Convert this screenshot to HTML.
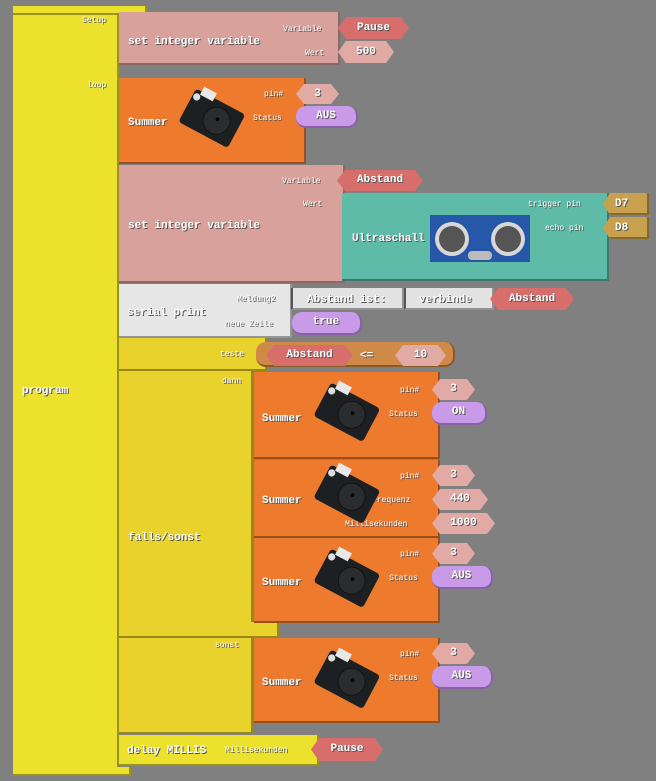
<!DOCTYPE html>
<html><head><meta charset="utf-8">
<style>
body{margin:0;width:656px;height:781px;background:#808080;position:relative;overflow:hidden;font-family:"Liberation Mono",monospace;}
.b{position:absolute;box-sizing:border-box;border-right:2px solid rgba(0,0,0,.35);border-bottom:2px solid rgba(0,0,0,.35);}
.t{position:absolute;color:#fff;font-weight:bold;font-size:11px;text-shadow:1px 1px 0 #555;white-space:nowrap;line-height:12px;}
.l{position:absolute;color:#fff;font-size:8px;text-shadow:1px 1px 0 #555;white-space:nowrap;line-height:9px;}
.p{position:absolute;color:#fff;font-weight:bold;font-size:11px;text-shadow:1px 1px 0 #555;text-align:center;box-sizing:border-box;clip-path:polygon(8px 0,calc(100% - 8px) 0,100% 50%,calc(100% - 8px) 100%,8px 100%,0 50%);}
.r{position:absolute;color:#fff;font-weight:bold;font-size:11px;text-shadow:1px 1px 0 #555;text-align:center;border-radius:10px;box-sizing:border-box;border-bottom:2px solid #8a60a8;border-right:2px solid #8a60a8;background:#c99ae8;}
.Y{background:#ece22e}
.Y2{background:#ead22c}
.pk{background:#d9a19b}
.or{background:#ee7a2e}
</style></head><body>

<div class="b Y" style="left:13px;top:6px;width:106px;height:770px;"></div>
<div class="b Y" style="left:13px;top:6px;width:134px;height:9px;"></div>
<div class="t" style="left:22px;top:385px;">program</div>
<div class="l" style="left:82px;top:16px;">Setup</div>
<div class="l" style="left:87px;top:81px;">loop</div>

<div class="b pk" style="left:119px;top:12px;width:221px;height:53px;"></div>
<div class="t" style="left:128px;top:36px;">set integer variable</div>
<div class="l" style="left:283px;top:25px;">Variable</div>
<div class="l" style="left:305px;top:49px;">Wert</div>
<div class="p" style="left:338px;top:17px;width:71px;height:22px;line-height:22px;background:#d86e6c;">Pause</div>
<div class="p" style="left:338px;top:41px;width:56px;height:22px;line-height:22px;background:#e2aaa4;">500</div>

<svg width="0" height="0" style="position:absolute"><defs>
<g id="bz">
<g transform="translate(4 4) scale(0.9) rotate(28 35 30)">
<rect x="5" y="10" width="62" height="42" rx="4" fill="#1c2022"/>
<rect x="12" y="4" width="16" height="10" fill="#e8e8e8"/>
<circle cx="10" cy="18" r="4" fill="#ddd"/>
<circle cx="42" cy="31" r="15" fill="#2a2c2e" stroke="#111"/>
<circle cx="42" cy="29" r="2" fill="#000"/>
</g></g>
<g id="us">
<rect x="0" y="0" width="100" height="47" fill="#2657a8"/>
<circle cx="22" cy="24" r="17" fill="#d8d8d8"/><circle cx="22" cy="24" r="13" fill="#555"/>
<circle cx="78" cy="24" r="17" fill="#d8d8d8"/><circle cx="78" cy="24" r="13" fill="#555"/>
<rect x="38" y="36" width="24" height="9" rx="4" fill="#bbb"/>
</g>
</defs></svg>

<div class="b or" style="left:119px;top:78px;width:187px;height:86px;"></div>
<div class="t" style="left:128px;top:117px;">Summer</div>
<svg style="position:absolute;left:176px;top:86px" width="80" height="70"><use href="#bz"/></svg>
<div class="l" style="left:264px;top:90px;">pin#</div>
<div class="l" style="left:253px;top:114px;">Status</div>
<div class="p" style="left:296px;top:84px;width:43px;height:20px;line-height:20px;background:#e2aaa4;">3</div>
<div class="r" style="left:296px;top:106px;width:62px;height:22px;line-height:20px;">AUS</div>

<div class="b pk" style="left:119px;top:165px;width:226px;height:118px;"></div>
<div class="t" style="left:128px;top:220px;">set integer variable</div>
<div class="l" style="left:282px;top:177px;">Variable</div>
<div class="l" style="left:303px;top:200px;">Wert</div>
<div class="p" style="left:337px;top:170px;width:86px;height:21px;line-height:21px;background:#d86e6c;">Abstand</div>
<div class="b" style="left:342px;top:193px;width:267px;height:88px;background:#5ebba8;"></div>
<div class="t" style="left:352px;top:233px;">Ultraschall</div>
<svg style="position:absolute;left:430px;top:215px" width="100" height="47"><use href="#us"/></svg>
<div class="l" style="left:528px;top:200px;">trigger pin</div>
<div class="l" style="left:545px;top:224px;">echo pin</div>
<div class="b" style="left:603px;top:193px;width:46px;height:22px;background:#c9a14e;clip-path:polygon(7px 0,100% 0,100% 100%,7px 100%,0 50%);"></div>
<div class="t" style="left:615px;top:198px;">D7</div>
<div class="b" style="left:603px;top:217px;width:46px;height:22px;background:#c9a14e;clip-path:polygon(7px 0,100% 0,100% 100%,7px 100%,0 50%);"></div>
<div class="t" style="left:615px;top:222px;">D8</div>

<div class="b" style="left:119px;top:284px;width:173px;height:54px;background:#e6e6e6;"></div>
<div class="t" style="left:127px;top:307px;">serial print</div>
<div class="l" style="left:237px;top:295px;">Meldung2</div>
<div class="l" style="left:225px;top:320px;">neue Zeile</div>
<div class="b" style="left:291px;top:288px;width:113px;height:22px;background:#e2e2e2;border-left:2px solid #555;"></div>
<div class="t" style="left:307px;top:294px;">Abstand ist:</div>
<div class="b" style="left:404px;top:288px;width:90px;height:22px;background:#e2e2e2;border-left:2px solid #555;"></div>
<div class="t" style="left:419px;top:294px;">verbinde</div>
<div class="p" style="left:490px;top:288px;width:84px;height:22px;line-height:22px;background:#d86e6c;">Abstand</div>
<div class="r" style="left:292px;top:312px;width:70px;height:23px;line-height:21px;">true</div>

<div class="b Y2" style="left:119px;top:338px;width:134px;height:396px;"></div>
<div class="b Y2" style="left:119px;top:338px;width:148px;height:33px;"></div>
<div class="b Y2" style="left:119px;top:622px;width:160px;height:16px;"></div>
<div class="t" style="left:128px;top:532px;">falls/sonst</div>
<div class="l" style="left:220px;top:350px;">teste</div>
<div class="l" style="left:222px;top:377px;">dann</div>
<div class="l" style="left:215px;top:641px;">sonst</div>
<div class="b" style="left:256px;top:342px;width:199px;height:25px;background:#d08a48;border-radius:10px;"></div>
<div class="p" style="left:266px;top:345px;width:87px;height:21px;line-height:21px;background:#d86e6c;">Abstand</div>
<div class="t" style="left:360px;top:350px;">&lt;=</div>
<div class="p" style="left:395px;top:345px;width:51px;height:21px;line-height:21px;background:#e2aaa4;">10</div>

<div class="b or" style="left:254px;top:372px;width:186px;height:87px;"></div>
<div class="t" style="left:262px;top:413px;">Summer</div>
<svg style="position:absolute;left:311px;top:380px" width="80" height="70"><use href="#bz"/></svg>
<div class="l" style="left:400px;top:386px;">pin#</div>
<div class="l" style="left:389px;top:410px;">Status</div>
<div class="p" style="left:432px;top:379px;width:43px;height:21px;line-height:21px;background:#e2aaa4;">3</div>
<div class="r" style="left:432px;top:402px;width:55px;height:23px;line-height:21px;">ON</div>

<div class="b or" style="left:254px;top:460px;width:186px;height:78px;"></div>
<div class="t" style="left:262px;top:495px;">Summer</div>
<div class="l" style="left:400px;top:472px;">pin#</div>
<div class="l" style="left:372px;top:496px;">Frequenz</div>
<div class="l" style="left:345px;top:520px;">Millisekunden</div>
<svg style="position:absolute;left:311px;top:462px" width="80" height="70"><use href="#bz"/></svg>
<div class="p" style="left:432px;top:465px;width:43px;height:21px;line-height:21px;background:#e2aaa4;">3</div>
<div class="p" style="left:432px;top:489px;width:56px;height:21px;line-height:21px;background:#e2aaa4;">440</div>
<div class="p" style="left:432px;top:513px;width:63px;height:21px;line-height:21px;background:#e2aaa4;">1000</div>

<div class="b or" style="left:254px;top:538px;width:186px;height:85px;"></div>
<div class="t" style="left:262px;top:577px;">Summer</div>
<svg style="position:absolute;left:311px;top:546px" width="80" height="70"><use href="#bz"/></svg>
<div class="l" style="left:400px;top:550px;">pin#</div>
<div class="l" style="left:389px;top:574px;">Status</div>
<div class="p" style="left:432px;top:543px;width:43px;height:21px;line-height:21px;background:#e2aaa4;">3</div>
<div class="r" style="left:432px;top:566px;width:61px;height:23px;line-height:21px;">AUS</div>

<div class="b or" style="left:254px;top:638px;width:186px;height:85px;"></div>
<div class="t" style="left:262px;top:677px;">Summer</div>
<svg style="position:absolute;left:311px;top:647px" width="80" height="70"><use href="#bz"/></svg>
<div class="l" style="left:400px;top:650px;">pin#</div>
<div class="l" style="left:389px;top:674px;">Status</div>
<div class="p" style="left:432px;top:643px;width:43px;height:21px;line-height:21px;background:#e2aaa4;">3</div>
<div class="r" style="left:432px;top:666px;width:61px;height:23px;line-height:21px;">AUS</div>

<div class="b Y" style="left:119px;top:735px;width:200px;height:31px;"></div>
<div class="b Y" style="left:13px;top:767px;width:118px;height:9px;"></div>
<div class="t" style="left:127px;top:745px;">delay MILLIS</div>
<div class="l" style="left:225px;top:746px;">Millisekunden</div>
<div class="p" style="left:311px;top:738px;width:72px;height:23px;line-height:23px;background:#d86e6c;">Pause</div>

</body></html>
